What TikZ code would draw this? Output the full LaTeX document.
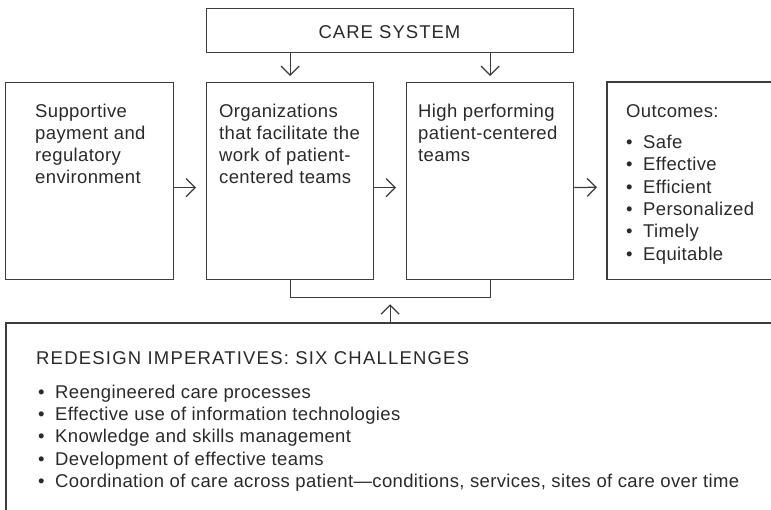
\documentclass[tikz,border=0pt]{standalone}
\usepackage{fontspec}
\setmainfont{Liberation Sans}
\newfontfamily\labelfont[LetterSpace=2]{Liberation Sans}
\newfontfamily\capsfont[LetterSpace=5.5]{Liberation Sans}
\newfontfamily\headfont[LetterSpace=6.5]{Liberation Sans}
\usetikzlibrary{arrows.meta,calc}
\definecolor{ink}{HTML}{2A2A2A}
\definecolor{rule}{HTML}{3C3C3C}
\tikzset{
  frame/.style={draw=rule, line width=1.25pt},
  panel/.style={frame, anchor=north west, inner sep=0pt, minimum height=197pt},
  conn/.style={draw=rule, line width=1.25pt, -{Straight Barb[length=9pt,width=18pt]}},
  % multi-line texts sit on the baseline of their last line
  txt/.style={anchor=base west, inner sep=0pt, align=left, text=ink,
    font=\labelfont\fontsize{18.5}{22.3}\selectfont},
  caps/.style={txt, font=\capsfont\fontsize{18.5}{22.3}\selectfont},
}
\newcommand\bul{\makebox[17pt][l]{\textbullet}}
\begin{document}
\begin{tikzpicture}[x=1pt,y=-1pt]
\useasboundingbox (0,0) rectangle (771,509);
\clip (0,0) rectangle (771,509);

% care system banner
\node[frame, anchor=north west, inner sep=0pt, minimum width=367pt, minimum height=44pt] (care) at (206,8) {};
\node[caps, anchor=base] (caretext) at (389.5,38) {CARE SYSTEM};

% the four panels of the chain
\node[panel, minimum width=168pt] (env) at (5,82) {};
\node[panel, minimum width=167pt] (org) at (206,82) {};
\node[panel, minimum width=167pt] (team) at (406,82) {};
\node[anchor=north west, inner sep=0pt, minimum width=180pt, minimum height=197pt] (out) at (607,82) {};
\draw[frame] (out.north east) -- (out.north west) -- (out.south west) -- (out.south east);

\node[txt] (envtext) at (35,183.9) {Supportive\\payment and\\regulatory\\environment};
\node[txt] (orgtext) at (219,183.9) {Organizations\\that facilitate the\\work of patient-\\centered teams};
\node[txt] (teamtext) at (418,161.6) {High performing\\patient-centered\\teams};
\node[txt] (outtext) at (626,117) {Outcomes:};
\node[txt] (outlist) at (626,260) {\bul Safe\\\bul Effective\\\bul Efficient\\\bul Personalized\\\bul Timely\\\bul Equitable};

% arrows from the banner
\draw[conn] (care.south -| org.north) -- ([yshift=6pt]org.north);
\draw[conn] (care.south -| team.north) -- ([yshift=6pt]team.north);

% arrows along the chain
\draw[conn] ([yshift=-6.5pt]env.east) -- ([yshift=-6.5pt,xshift=-10pt]org.west);
\draw[conn] ([yshift=-6.5pt]org.east) -- ([yshift=-6.5pt,xshift=-10pt]team.west);
\draw[conn] ([yshift=-6.5pt]team.east) -- ([yshift=-6.5pt,xshift=-10pt]out.west);

% bracket under the middle panels
\coordinate (join) at ($(org.south)!0.5!(team.south)+(0,17)$);
\draw[frame] (org.south) -- (org.south |- join) -- (team.south |- join) -- (team.south);

% redesign imperatives panel
\node[anchor=north west, inner sep=0pt, minimum width=780pt, minimum height=200pt] (redesign) at (6,323) {};
\draw[frame] (redesign.north east) -- (redesign.north west) -- (redesign.south west);
\draw[conn] (join |- redesign.north) -- ([yshift=-7pt]join);

\node[txt, font=\headfont\fontsize{18.5}{22.3}\selectfont] (redesignhead) at (36,364) {REDESIGN IMPERATIVES: SIX CHALLENGES};
\node[txt] (redesignlist) at (38,487.5) {\bul Reengineered care processes\\
  \bul Effective use of information technologies\\
  \bul Knowledge and skills management\\
  \bul Development of effective teams\\
  \bul Coordination of care across patient—conditions, services, sites of care over time};
\end{tikzpicture}
\end{document}
